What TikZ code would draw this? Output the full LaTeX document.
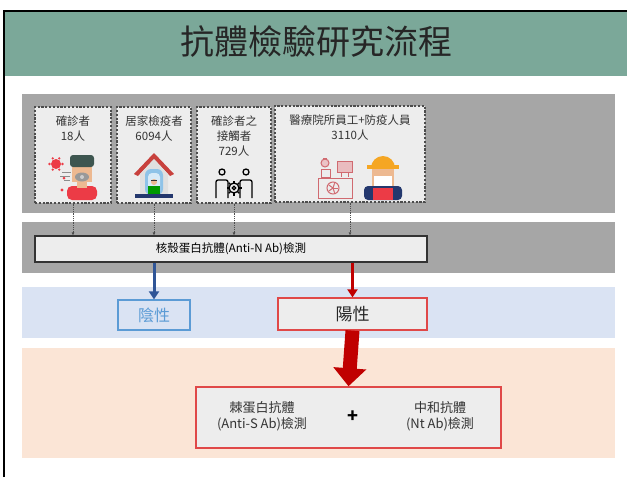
\documentclass[tikz,border=0pt]{standalone}
\usepackage{fontspec}
\setmainfont{Noto Sans CJK TC}
\usepackage{tikz}
\usetikzlibrary{arrows.meta,positioning}

\definecolor{titlebg}{HTML}{7BA899}
\definecolor{bandgray}{HTML}{A6A6A6}
\definecolor{bandblue}{HTML}{DAE3F3}
\definecolor{bandpeach}{HTML}{FBE5D6}
\definecolor{boxgray}{HTML}{EDEDED}
\definecolor{negblue}{HTML}{5B9BD5}
\definecolor{arrblue}{HTML}{2F5597}
\definecolor{arrred}{HTML}{C00000}
\definecolor{posred}{HTML}{E04848}
\definecolor{skin}{HTML}{EDB991}
\definecolor{hair}{HTML}{3E5650}
\definecolor{shirt}{HTML}{EC3B46}
\definecolor{roof}{HTML}{C8413D}
\definecolor{glass}{HTML}{8FC3E8}
\definecolor{navy}{HTML}{24386E}
\definecolor{labpink}{HTML}{D06A70}
\definecolor{hat}{HTML}{F5A623}

\begin{document}
\begin{tikzpicture}[x=1pt, y=-1pt,
  grp/.style={draw=black!70, dash pattern=on 2.2pt off 1.6pt, line width=1.3pt, fill=boxgray, minimum height=96pt, inner sep=0pt},
  lbl/.style={font=\fontsize{11.5}{15}\selectfont, text=black!80, align=center, inner sep=1pt},
  test/.style={draw=black!80, line width=1.1pt, fill=boxgray, minimum width=392pt, minimum height=26pt, font=\fontsize{11.5}{14}\selectfont},
  link/.style={-{Latex[length=3pt,width=3pt]}, black!70, densely dotted, line width=0.8pt},
  arrb/.style={-{Triangle[length=8pt,width=10pt]}, line width=3pt, arrblue},
  arrr/.style={-{Triangle[length=8pt,width=10pt]}, line width=3pt, arrred},
  big/.style={-{Triangle[length=18pt,width=32pt]}, line width=14pt, arrred},
  outc/.style={font=\fontsize{13}{15.5}\selectfont, align=center, text=black!80}]
  \useasboundingbox (0,0) rectangle (627,477);
  \fill[white] (0,0) rectangle (627,477);
  % header and frame
  \fill[titlebg] (5,12) rectangle (627,76);
  \draw[line width=2.5pt] (4,477) -- (4,11) -- (627,11);
  \node[font=\fontsize{34}{38}\selectfont, text=black!85] (title) at (316,42) {抗體檢驗研究流程};
  % background bands
  \fill[bandgray]  (22,94)  rectangle (615,213);
  \fill[bandgray]  (22,222) rectangle (615,273);
  \fill[bandblue]  (22,287) rectangle (615,338);
  \fill[bandpeach] (22,348) rectangle (615,458);

  % study groups
  \node[grp, minimum width=76pt]  (conf)  at (73,155)  {};
  \node[grp, minimum width=74pt]  (home)  at (154,155) {};
  \node[grp, minimum width=74pt]  (cont)  at (234,155) {};
  \node[grp, minimum width=150pt] (staff) at (350,154) {};
  \node[lbl, below=8pt of conf.north]  (conftxt)  {確診者\\18人};
  \node[lbl, below=8pt of home.north]  (hometxt)  {居家檢疫者\\6094人};
  \node[lbl, below=8pt of cont.north]  (conttxt)  {確診者之\\接觸者\\729人};
  \node[lbl, below=8pt of staff.north] (stafftxt) {醫療院所員工+防疫人員\\3110人};

  % patient icon
  \fill[shirt] (56,164) circle (5pt);
  \foreach \a in {0,60,...,300} \fill[shirt] (56,164) ++(\a:6.5pt) circle (1.3pt);
  \fill[shirt] (64,178) circle (1.5pt);
  \fill[shirt] (62,190) circle (1.6pt);
  \draw[black!45, line width=0.8pt] (62,172) -- (71,172) (60,176) -- (70,176) (64,180) -- (70,180);
  \fill[shirt, rounded corners=5pt] (67,200) -- (67,186) -- (97,186) -- (97,200) -- cycle;
  \fill[skin] (77,179) rectangle (87,188);
  \fill[skin] (72,164) rectangle (92,182);
  \fill[hair, rounded corners=3pt] (70,167) -- (70,155) -- (94,155) -- (94,167) -- cycle;
  \fill[black!40] (82,177) ellipse (7pt and 4.5pt);
  \fill[black!20] (82,177) circle (2pt);

  % house icon
  \fill[roof] (134,174) -- (154,153) -- (174,174) -- (170,176) -- (154,159) -- (138,176) -- cycle;
  \fill[black!12] (140,174) -- (154,159) -- (168,174) -- (168,194) -- (140,194) -- cycle;
  \fill[glass, rounded corners=6pt] (145,195) -- (145,169) -- (163,169) -- (163,195) -- cycle;
  \fill[glass!35, rounded corners=4pt] (148,195) -- (148,173) -- (160,173) -- (160,195) -- cycle;
  \fill[green!60!black] (148,195) rectangle (160,186);
  \fill[skin] (154,182) circle (3pt);
  \fill[black!80] (151,179.5) rectangle (157,180.5);
  \fill[navy] (135,194) rectangle (173,198);

  % contacts icon
  \begin{scope}[black, line width=1.3pt]
    \draw (222,172) circle (3pt);
    \draw (246,172) circle (3pt);
    \draw[rounded corners=2pt] (216,198) -- (216,180) -- (228,180) -- (228,198);
    \draw[rounded corners=2pt] (240,198) -- (240,180) -- (252,180) -- (252,198);
    \draw[fill=boxgray] (234,188) circle (5pt);
    \foreach \a in {0,45,...,315} \draw (234,188) ++(\a:5pt) -- ++(\a:2.5pt);
    \draw (234,188) circle (1.8pt);
  \end{scope}

  % lab icon
  \begin{scope}[labpink, line width=1pt]
    \draw (318,178) rectangle (352,198);
    \draw (333,188) circle (6pt);
    \foreach \a in {0,72,...,288} \draw (333,188) -- ++(\a:5pt);
    \draw[fill=labpink!40] (325,163) circle (4pt);
    \draw (321,169) rectangle (330,177);
    \draw (323,158) -- (327,158);
    \draw[fill=labpink!45] (337,161) rectangle (352,172);
    \draw (341,172) -- (341,177) (348,172) -- (348,177);
  \end{scope}

  % worker icon
  \fill[navy, rounded corners=4pt] (364,200) -- (364,186) -- (402,186) -- (402,200) -- cycle;
  \fill[shirt] (373,188) rectangle (393,200);
  \fill[skin] (372,168) rectangle (394,186);
  \fill[white] (374,176) rectangle (392,186);
  \begin{scope}
    \clip (360,148) rectangle (410,167);
    \fill[hat] (383,168) circle (12pt);
  \end{scope}
  \fill[hat] (367,165) rectangle (399,169);

  % antibody tests
  \node[test] (antin) at (231,249) {核殼蛋白抗體(Anti-N Ab)檢測};
  \node[draw=negblue, line width=1.2pt, minimum width=72pt, minimum height=30pt,
        text=negblue, font=\fontsize{16}{18}\selectfont] (neg) at (154,315) {陰性};
  \node[draw=posred, line width=1.2pt, fill=boxgray, minimum width=149pt, minimum height=32pt,
        text=black!85, font=\fontsize{17}{19}\selectfont] (pos) at (352.5,314) {陽性};
  \node[draw=posred, line width=1.5pt, fill=boxgray, minimum width=305pt, minimum height=61pt] (res) at (348.5,417.5) {};
  \node[outc] (antis) at (262,416) {棘蛋白抗體\\(Anti-S Ab)檢測};
  \node[font=\bfseries\fontsize{18}{18}\selectfont] (plus) at (353,417) {+};
  \node[outc] (ntab) at (440,416) {中和抗體\\(Nt Ab)檢測};

  % connectors
  \draw[link] (conf.south)  -- (conf.south |- antin.north);
  \draw[link] (home.south)  -- (home.south |- antin.north);
  \draw[link] (cont.south)  -- (cont.south |- antin.north);
  \draw[link] (staff.south) -- (staff.south |- antin.north);
  \draw[arrb] (antin.south -| neg.north) -- (neg.north);
  \draw[arrr] (antin.south -| pos.north) -- (pos.north);
  \draw[big] (pos.south) -- (res.north);
\end{tikzpicture}
\end{document}
